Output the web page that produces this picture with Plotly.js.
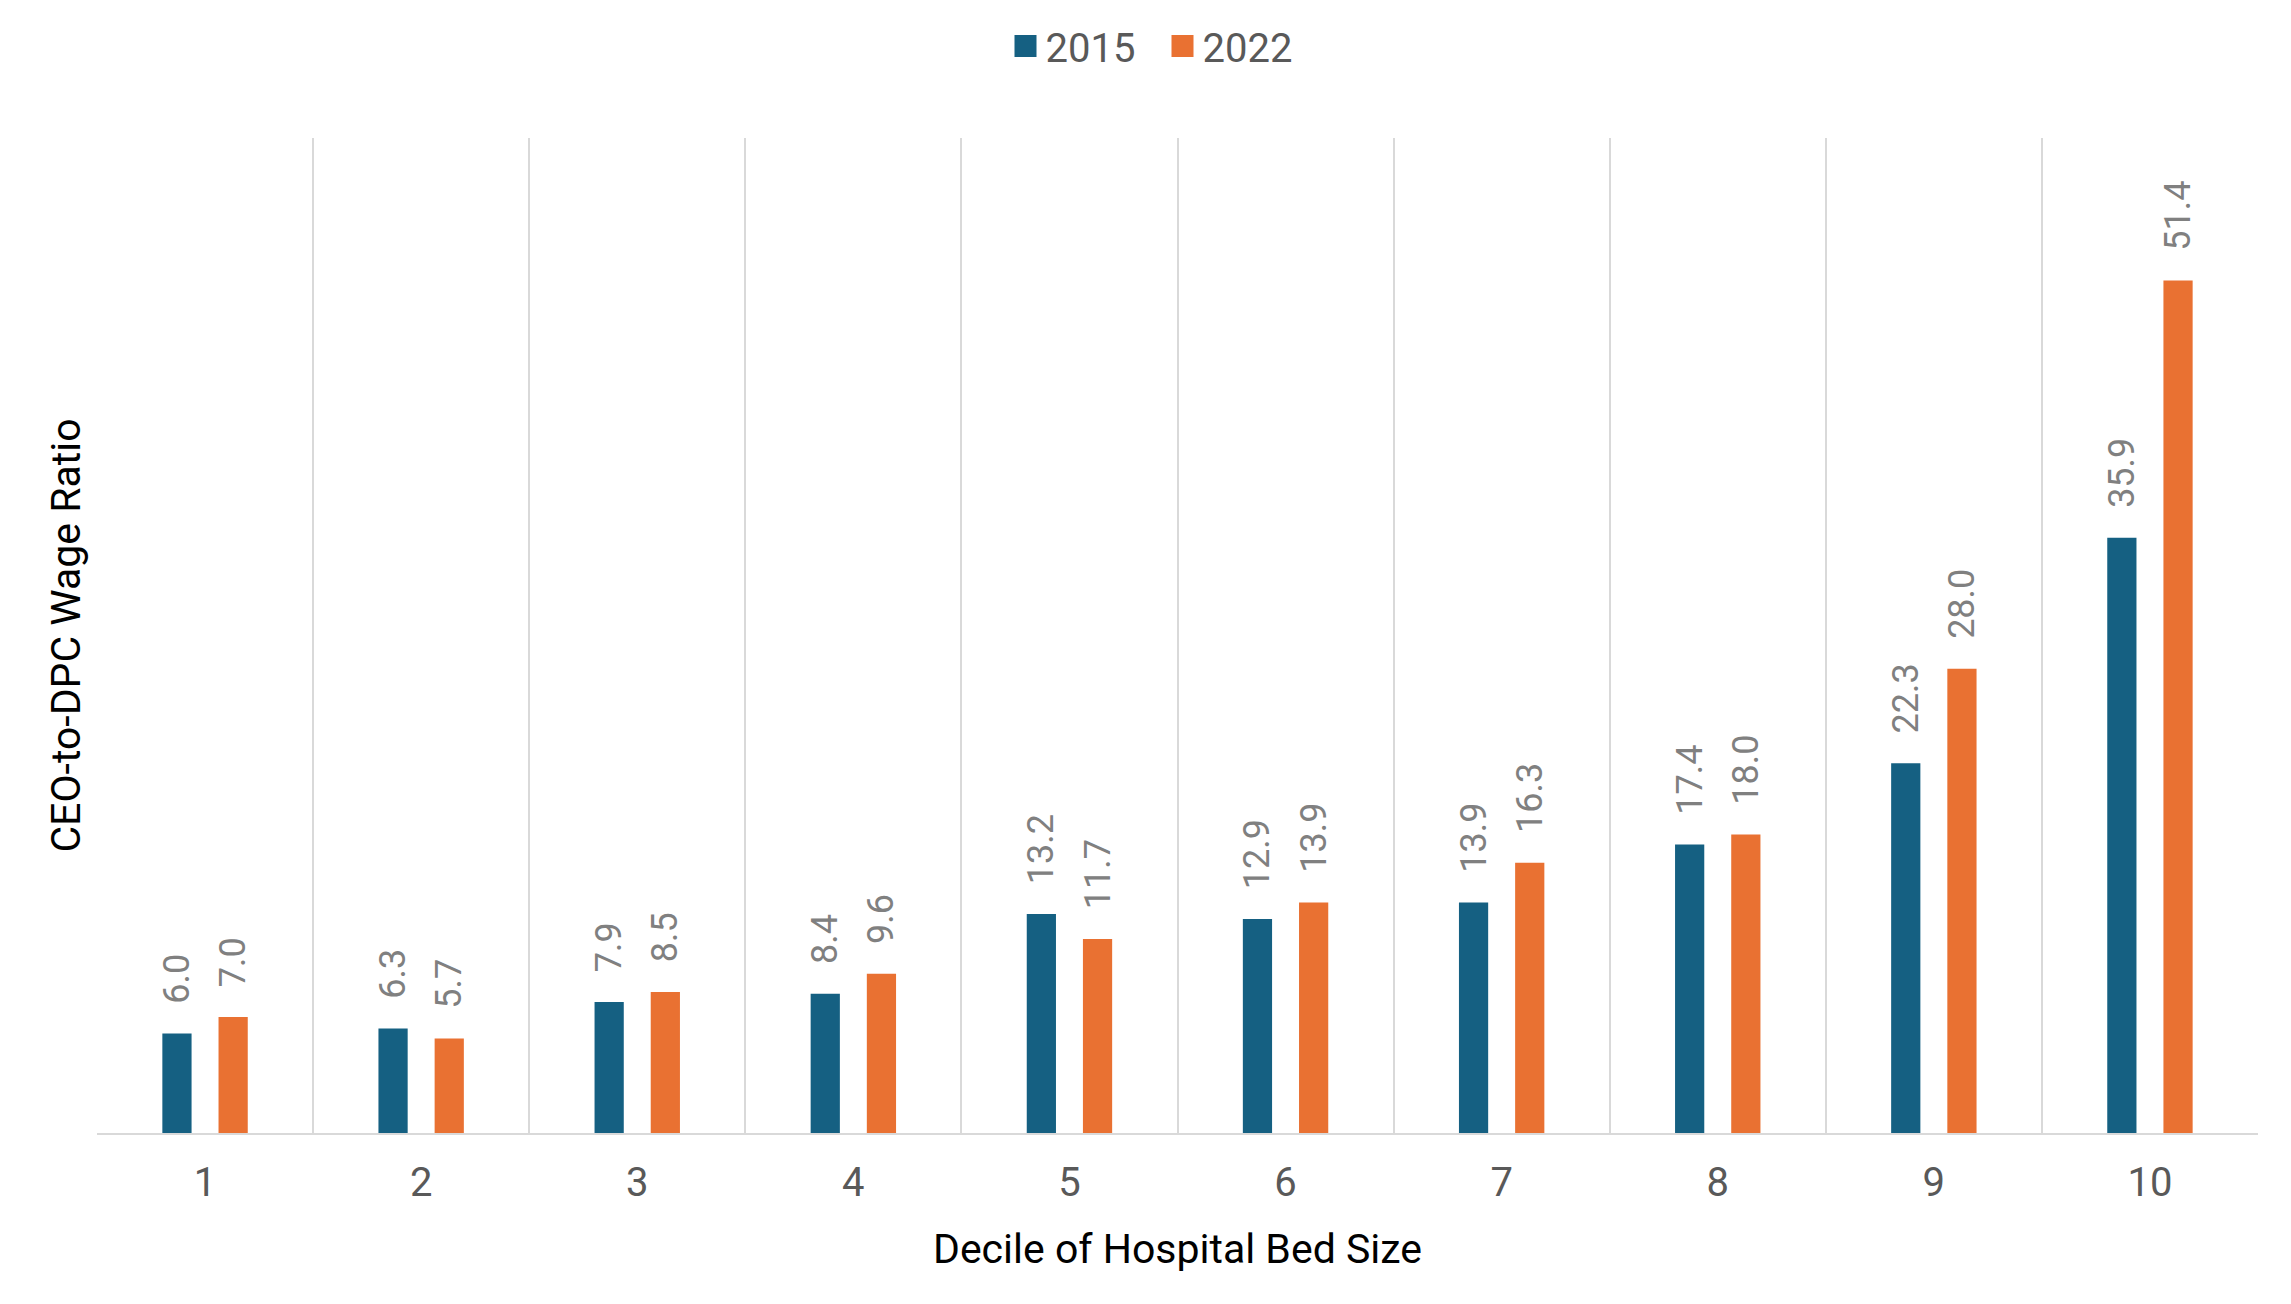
<!DOCTYPE html>
<html>
<head>
<meta charset="utf-8">
<script src="https://cdn.plot.ly/plotly-3.0.1.min.js"></script>
<style>
  html, body { margin: 0; padding: 0; background: #ffffff; }
  #chart { width: 2291px; height: 1304px; }
</style>
</head>
<body>
<div id="chart"></div>
<script>
// CEO-to-DPC wage ratio by decile of hospital bed size
const deciles = ['1', '2', '3', '4', '5', '6', '7', '8', '9', '10'];
const ratio2015 = [6.0, 6.3, 7.9, 8.4, 13.2, 12.9, 13.9, 17.4, 22.3, 35.9];
const ratio2022 = [7.0, 5.7, 8.5, 9.6, 11.7, 13.9, 16.3, 18.0, 28.0, 51.4];
const seriesNames = ['2015', '2022'];

const colors = ['#156082', '#E97132'];
const labelPad = '\u00A0\u00A0\u00A0';
const fontFamily = 'Roboto, "Open Sans", Arial, sans-serif';

function barTrace(name, values, color) {
  return {
    type: 'bar',
    name: name,
    x: deciles,
    y: values,
    marker: { color: color },
    text: values.map(v => labelPad + v.toFixed(1)),
    textposition: 'outside',
    textangle: -90,
    constraintext: 'none',
    cliponaxis: false,
    textfont: { family: fontFamily, size: 36, color: '#808080' },
    hoverinfo: 'x+y'
  };
}

const data = [
  barTrace(seriesNames[0], ratio2015, colors[0]),
  barTrace(seriesNames[1], ratio2022, colors[1])
];

const layout = {
  width: 2291,
  height: 1304,
  paper_bgcolor: '#ffffff',
  plot_bgcolor: '#ffffff',
  margin: { l: 97, r: 33, t: 138, b: 171 },
  barmode: 'group',
  bargap: 0.48,
  bargroupgap: 0.48,
  font: { family: fontFamily, color: '#595959' },
  showlegend: true,
  legend: {
    orientation: 'h',
    x: 0.5 + 17 / 2291,
    xanchor: 'center',
    xref: 'container',
    y: 1 - 46 / 1304,
    yanchor: 'middle',
    yref: 'container',
    entrywidth: 112,
    font: { family: fontFamily, size: 40, color: '#595959' },
    traceorder: 'normal'
  },
  xaxis: {
    type: 'category',
    tickson: 'boundaries',
    showgrid: true,
    gridcolor: '#d9d9d9',
    gridwidth: 2,
    showline: true,
    linecolor: '#d9d9d9',
    linewidth: 2,
    ticks: '',
    ticklabelstandoff: 13,
    tickfont: { family: fontFamily, size: 40, color: '#595959' },
    title: {
      text: 'Decile of Hospital Bed Size',
      font: { family: fontFamily, size: 41, color: '#000000' },
      standoff: 29
    },
    fixedrange: true
  },
  yaxis: {
    range: [0, 60],
    showgrid: false,
    zeroline: false,
    showline: false,
    showticklabels: false,
    ticks: '',
    title: {
      text: 'CEO-to-DPC Wage Ratio',
      font: { family: fontFamily, size: 41, color: '#000000' },
      standoff: 2
    },
    fixedrange: true
  }
};

Plotly.newPlot('chart', data, layout, { displayModeBar: false, staticPlot: true })
  .then(gd => {
    // larger square swatches in the legend
    gd.querySelectorAll('.legend .legendpoints path').forEach(p => {
      p.setAttribute('d', 'M11,11H-11V-11H11Z');
    });
  });
</script>
</body>
</html>
